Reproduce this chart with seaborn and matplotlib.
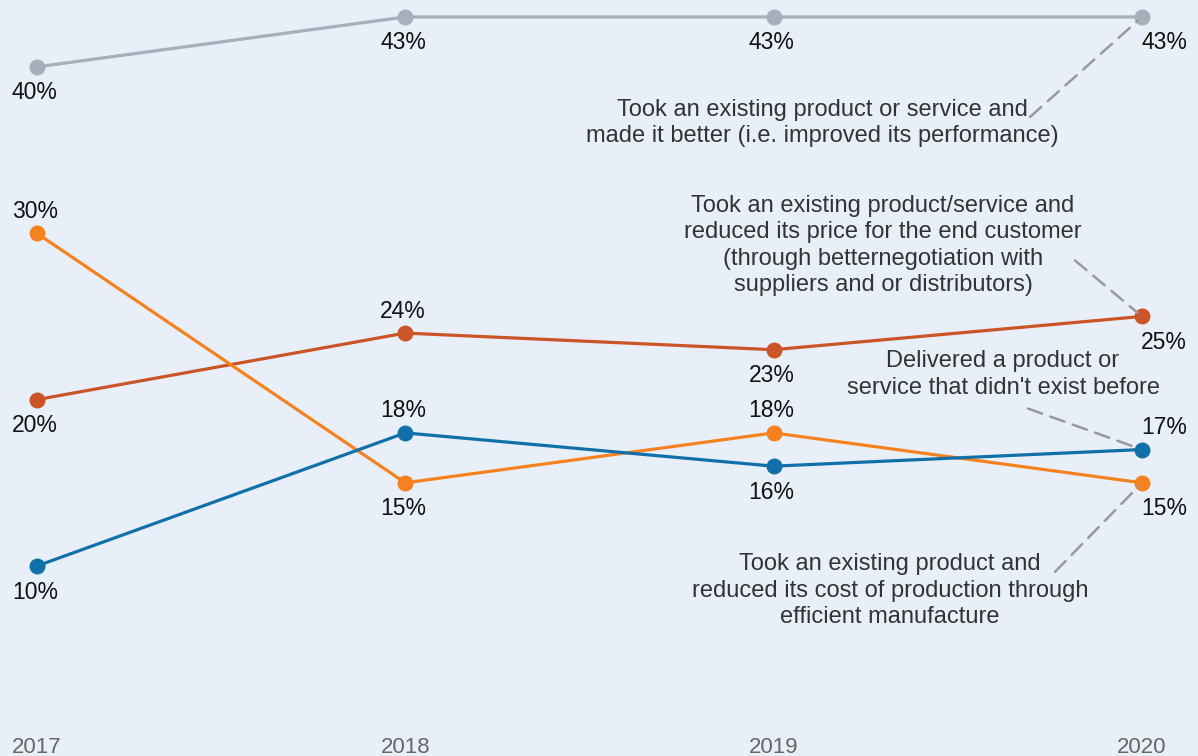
import matplotlib
matplotlib.use("Agg")
import matplotlib.pyplot as plt
import seaborn as sns
import pandas as pd

# Share of respondents by type of innovation, 2017-2020
years = [2017, 2018, 2019, 2020]
improved = [40, 43, 43, 43]
price_cut = [20, 24, 23, 25]
cost_cut = [30, 15, 18, 15]
brand_new = [10, 18, 16, 17]

series_names = ["improved", "price_cut", "cost_cut", "brand_new"]
series_values = [improved, price_cut, cost_cut, brand_new]
series_colors = ["#a9aebb", "#cb5527", "#f5821f", "#1170aa"]

# where each value label sits relative to its point
label_side = {
    "improved": ["below", "below", "below", "below"],
    "price_cut": ["below", "above", "below", "below"],
    "cost_cut": ["above", "below", "above", "below"],
    "brand_new": ["below", "above", "below", "above"],
}

descriptions = {
    "improved": "Took an existing product or service and\nmade it better (i.e. improved its performance)",
    "price_cut": "Took an existing product/service and\nreduced its price for the end customer\n(through betternegotiation with\nsuppliers and or distributors)",
    "brand_new": "Delivered a product or\nservice that didn't exist before",
    "cost_cut": "Took an existing product and\nreduced its cost of production through\nefficient manufacture",
}

df = pd.DataFrame(
    [(y, v, name) for name, vals in zip(series_names, series_values) for y, v in zip(years, vals)],
    columns=["year", "value", "series"],
)

bg = "#e8eff9"
sns.set_theme(style="white")
plt.rcParams["font.family"] = ["Liberation Sans", "DejaVu Sans"]

fig = plt.figure(figsize=(11.98, 7.56), dpi=100, facecolor=bg)
ax = fig.add_axes([0, 0, 1, 1], facecolor=bg)

sns.lineplot(
    data=df, x="year", y="value", hue="series", hue_order=series_names,
    palette=dict(zip(series_names, series_colors)),
    marker="o", markersize=11.5, markeredgewidth=0, linewidth=2.3,
    legend=False, ax=ax,
)

ax.set_xlim(2016.9, 2020.152)
ax.set_ylim(-1.42, 44.02)

for name, vals in zip(series_names, series_values):
    for i, (yr, v) in enumerate(zip(years, vals)):
        dy = 22 if label_side[name][i] == "above" else -26
        dx = 22 if i == len(years) - 1 else -2
        ax.annotate(f"{v}%", (yr, v), xytext=(dx, dy), textcoords="offset pixels",
                    ha="center", va="center", fontsize=16.5, color="#111111")

# descriptive callouts with dashed leader lines (offsets in pixels from the 2020 point)
callouts = {
    "improved": ((-320, -106), (-112, -100)),
    "price_cut": ((-259, 71), (-67, 56)),
    "brand_new": ((-139, 75), (-114, 41)),
    "cost_cut": ((-252, -108), (-87, -89)),
}
for name, vals in zip(series_names, series_values):
    text_off, line_off = callouts[name]
    last = (years[-1], vals[-1])
    ax.annotate(descriptions[name], last, xytext=text_off, textcoords="offset pixels",
                ha="center", va="center", fontsize=17, color="#333333", linespacing=1.26)
    ax.annotate("", last, xytext=line_off, textcoords="offset pixels",
                arrowprops=dict(arrowstyle="-", color="#999999", lw=1.8,
                                linestyle=(0, (6, 3.5)), shrinkA=0, shrinkB=4))

ax.set_xticks(years)
ax.set_xticklabels([str(y) for y in years], fontsize=16, color="#666666")
ax.tick_params(axis="x", pad=-14, length=0)
ax.set_yticks([])
ax.set_xlabel("")
ax.set_ylabel("")
for s in ax.spines.values():
    s.set_visible(False)

fig.savefig("out.png", dpi=100, facecolor=bg)
